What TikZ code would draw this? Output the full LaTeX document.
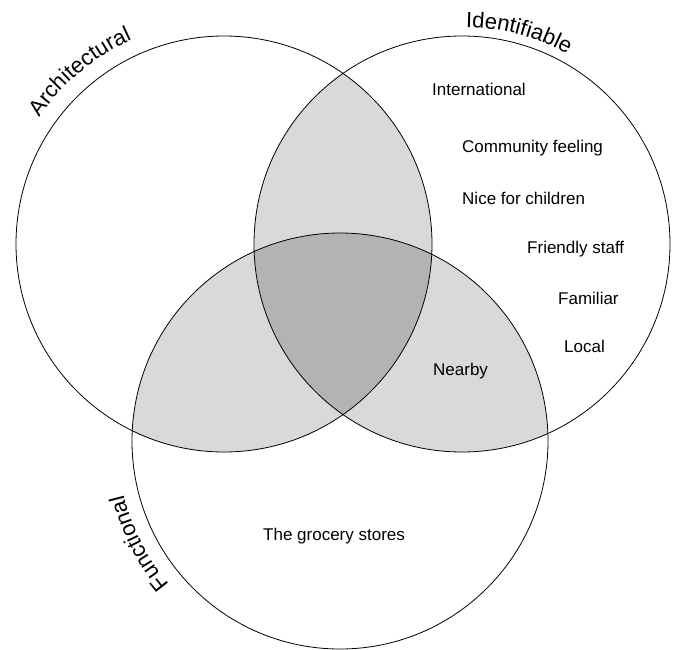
\documentclass[tikz,border=0pt]{standalone}
\usepackage{fontspec}
\setmainfont{Liberation Sans}
\usetikzlibrary{decorations.text}
\definecolor{pairgray}{HTML}{D9D9D9}
\definecolor{triplegray}{HTML}{B3B3B3}
\begin{document}
\begin{tikzpicture}[x=1pt,y=-1pt,
  ring/.style={draw=black, line width=0.8pt},
  item/.style={anchor=base west, inner sep=0pt, font=\fontsize{17}{20}\selectfont},
  titletext/.style={decorate, decoration={text along path, text align=left, text={|\fontsize{22}{25}\selectfont|#1}}}
]
\useasboundingbox (0,0) rectangle (680,649);
\coordinate (A) at (224,244);
\coordinate (B) at (462,244);
\coordinate (C) at (340,441);
% pairwise overlaps
\begin{scope}
  \clip (A) circle[radius=208pt];
  \fill[pairgray] (B) circle[radius=208pt];
  \fill[pairgray] (C) circle[radius=208pt];
\end{scope}
\begin{scope}
  \clip (B) circle[radius=208pt];
  \fill[pairgray] (C) circle[radius=208pt];
\end{scope}
% triple overlap
\begin{scope}
  \clip (A) circle[radius=208pt];
  \clip (B) circle[radius=208pt];
  \fill[triplegray] (C) circle[radius=208pt];
\end{scope}
% outlines
\draw[ring] (A) circle[radius=208pt];
\draw[ring] (B) circle[radius=208pt];
\draw[ring] (C) circle[radius=208pt];
% curved titles
\path[titletext=Architectural] (A) ++(145.5:224pt) arc[start angle=145.5, end angle=95, radius=224pt];
\path[titletext=Identifiable] (B) ++(89:217pt) arc[start angle=89, end angle=45, radius=217pt];
\path[titletext=Functional] (C) ++(220:223pt) arc[start angle=220, end angle=170, radius=223pt];
% items
\node[item] (intl) at (432,95) {International};
\node[item] (comm) at (462,152.5) {Community feeling};
\node[item] (nice) at (462,204) {Nice for children};
\node[item] (staff) at (527,253) {Friendly staff};
\node[item] (fam) at (558,304) {Familiar};
\node[item] (local) at (564,352) {Local};
\node[item] (near) at (433,375) {Nearby};
\node[item] (groc) at (263,540.5) {The grocery stores};
\end{tikzpicture}
\end{document}
